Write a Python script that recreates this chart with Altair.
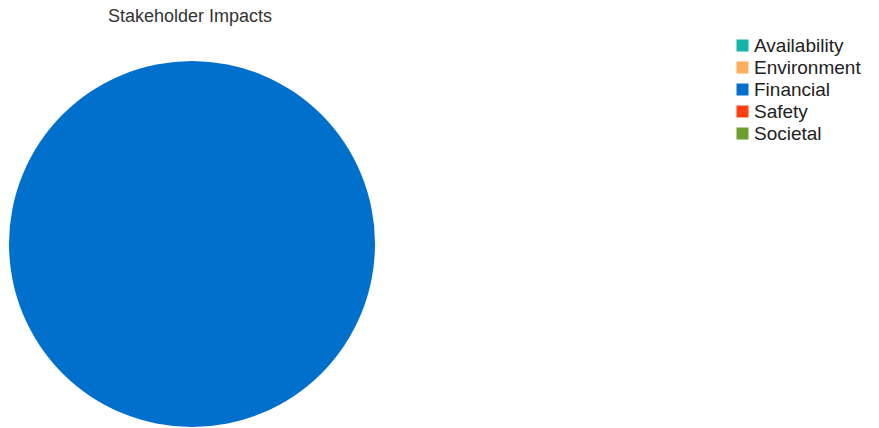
import altair as alt
import pandas as pd

categories = ["Availability", "Environment", "Financial", "Safety", "Societal"]
values = [0, 0, 100, 0, 0]
colors = ["#13b5a5", "#ffad5a", "#0070cc", "#ff4013", "#6e9e2e"]

df = pd.DataFrame({"category": categories, "value": values})

chart = alt.Chart(df).mark_arc(radius=183, stroke=None).encode(
    theta=alt.Theta("value:Q", stack=True),
    color=alt.Color(
        "category:N",
        scale=alt.Scale(domain=categories, range=colors),
        legend=alt.Legend(
            title=None,
            orient="none",
            legendX=733,
            legendY=36,
            symbolType="square",
            symbolSize=144,
            symbolStrokeWidth=0,
            labelFont="Liberation Sans",
            labelFontSize=19,
            labelColor="#222222",
            rowPadding=2,
            labelOffset=2,
        ),
    ),
    order=alt.Order("category:N"),
    x=alt.value(192),
    y=alt.value(244),
).properties(
    width=879,
    height=428,
    autosize=alt.AutoSizeParams(type="none"),
    padding=0,
    title=alt.TitleParams(
        "Stakeholder Impacts",
        anchor="start",
        dx=108,
        dy=0,
        font="Liberation Sans",
        fontSize=18,
        fontWeight="normal",
        color="#333333",
        offset=-26,
    ),
).configure_view(stroke=None)

chart.save("out.html", embed_options={"renderer": "svg", "actions": False})
